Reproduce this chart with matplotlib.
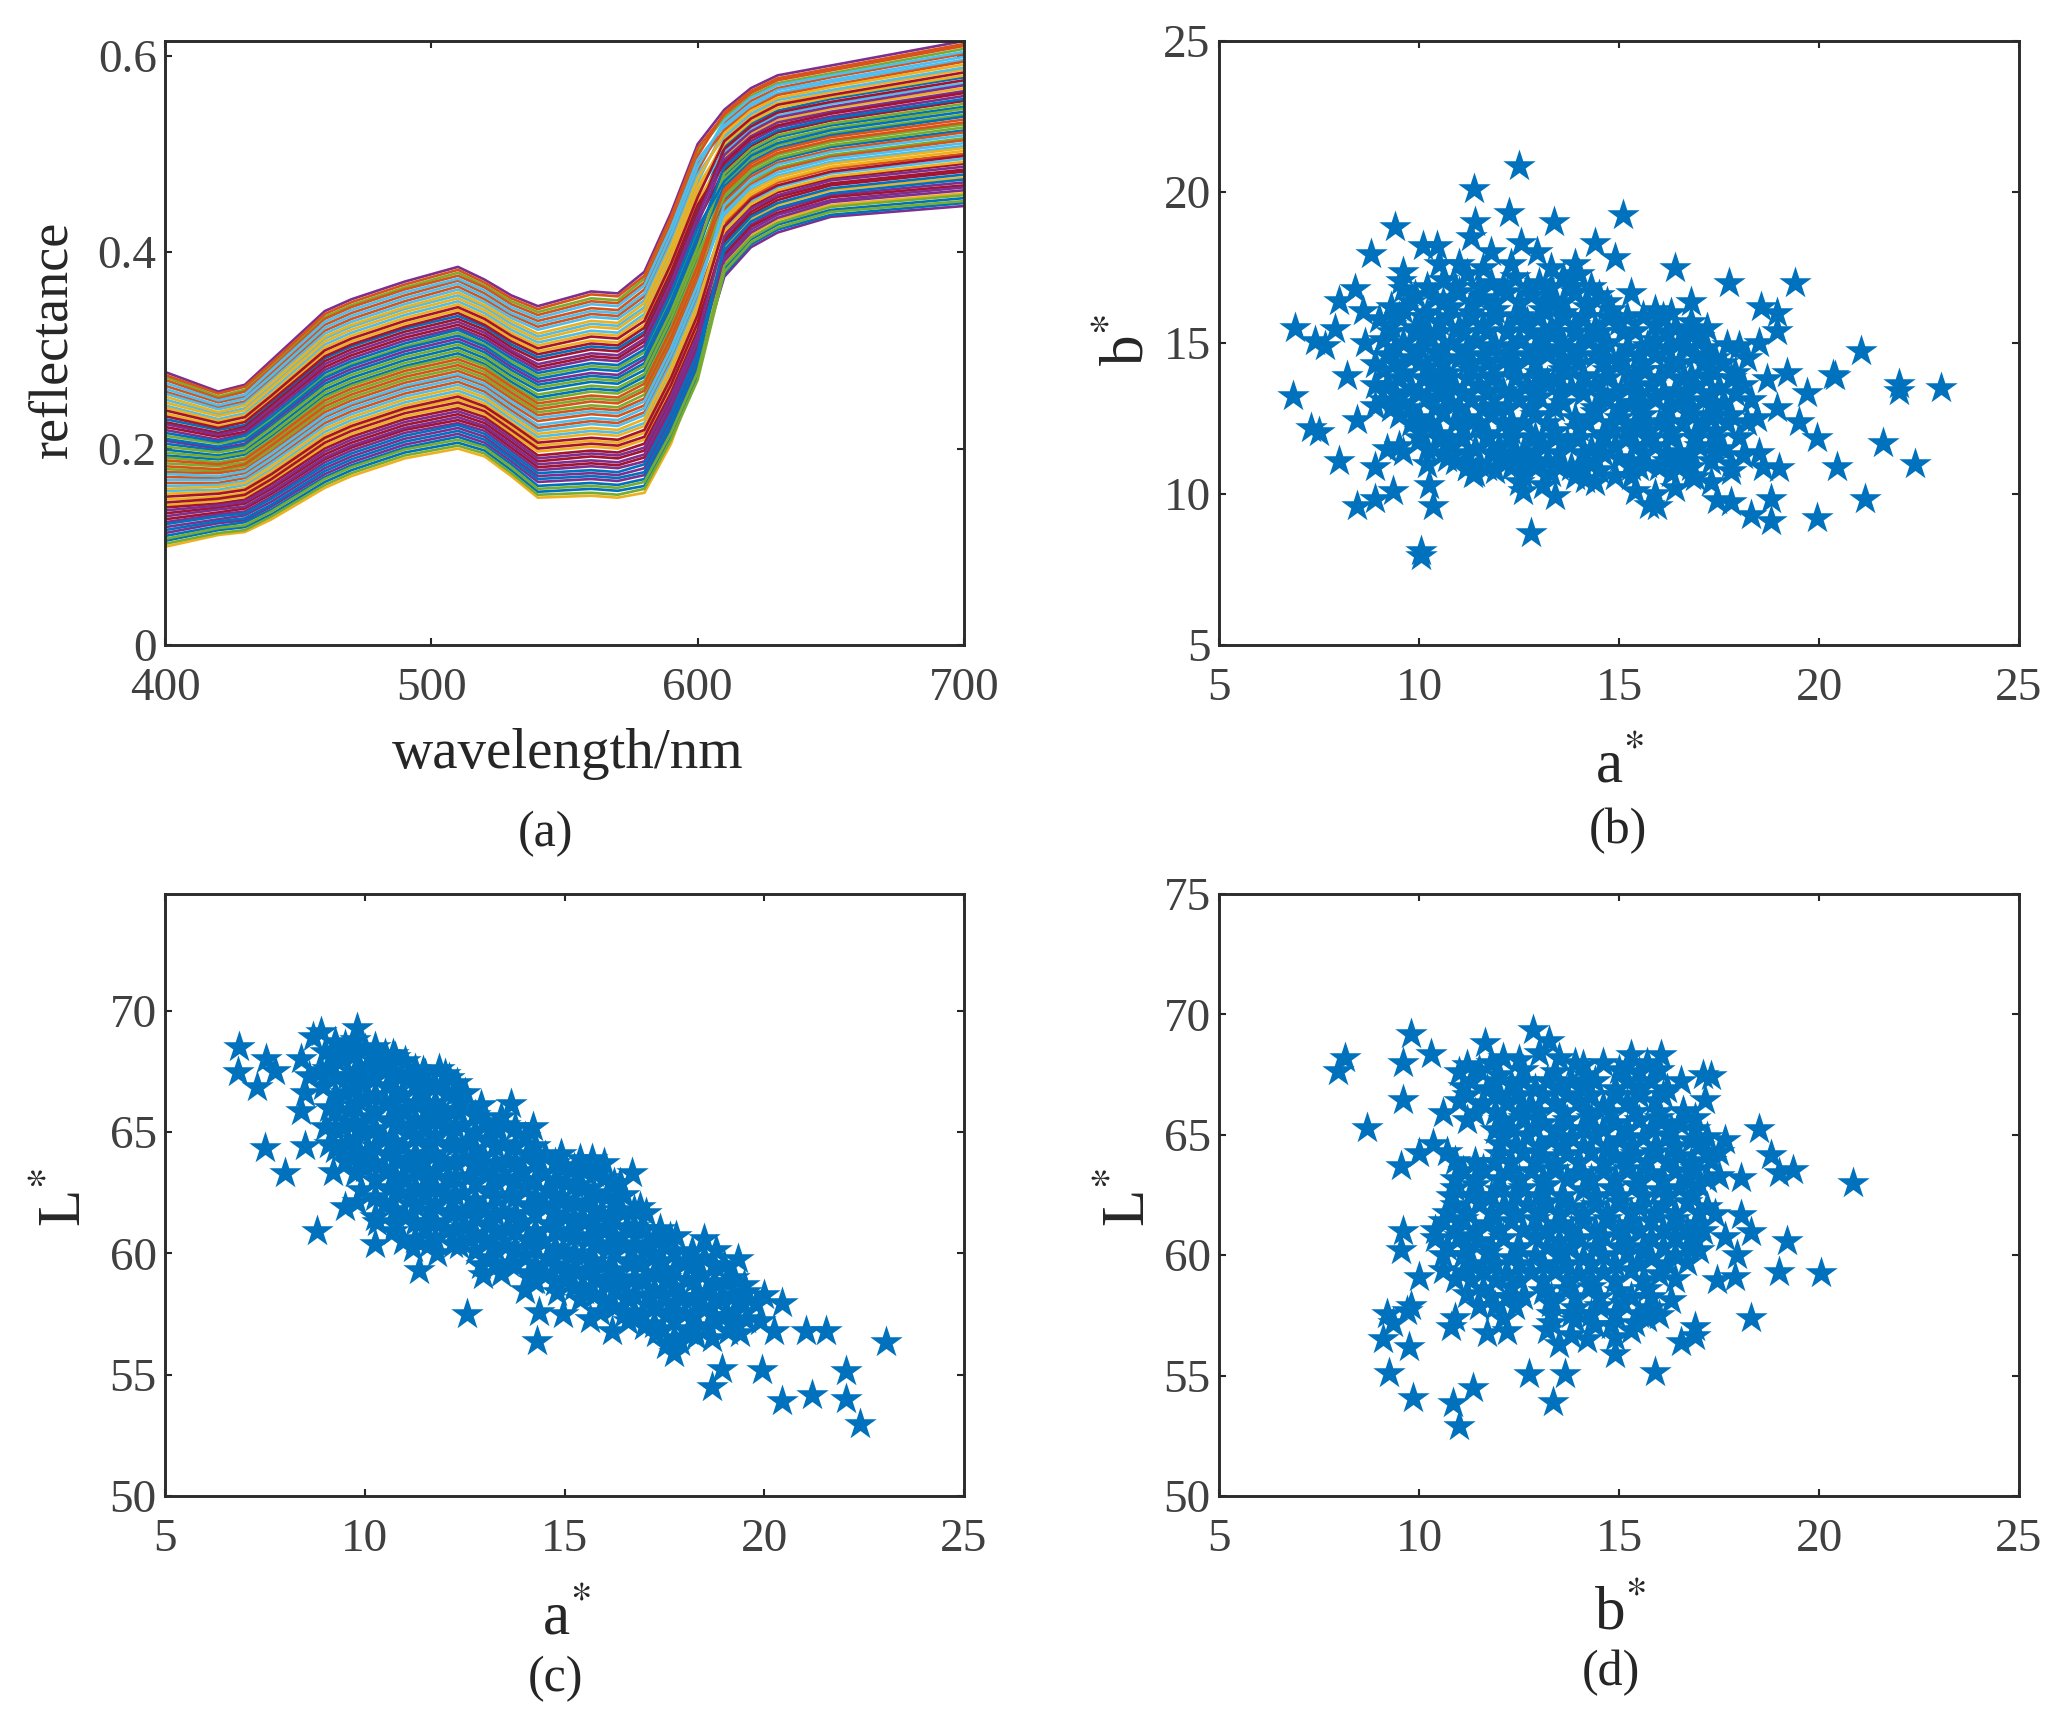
import matplotlib
matplotlib.use("Agg")
import matplotlib.pyplot as plt
import numpy as np

W, H = 2071, 1717

plt.rcParams["font.family"] = ["Liberation Serif", "DejaVu Serif"]
plt.rcParams["mathtext.fontset"] = "stix"

wavelengths = [400, 420, 430, 460, 490, 510, 540, 560, 580, 600, 620, 650, 700]

# reflectance x 1000, one row per sample
spectra = [
    [230, 219, 224, 292, 322, 335, 293, 304, 319, 444, 531, 556, 578],
    [165, 165, 170, 226, 256, 268, 221, 228, 237, 355, 456, 485, 500],
    [100, 112, 115, 160, 190, 200, 150, 152, 155, 280, 418, 448, 460],
    [114, 124, 127, 174, 204, 215, 166, 169, 173, 285, 405, 436, 447],
    [179, 177, 182, 240, 270, 282, 237, 244, 255, 374, 485, 512, 530],
    [244, 230, 236, 306, 336, 350, 308, 320, 337, 463, 526, 551, 572],
    [128, 135, 139, 189, 219, 229, 181, 185, 191, 305, 438, 468, 482],
    [193, 189, 194, 254, 284, 297, 252, 261, 273, 394, 480, 507, 524],
    [258, 242, 248, 320, 350, 365, 324, 337, 355, 483, 554, 578, 602],
    [142, 147, 151, 203, 233, 244, 197, 202, 209, 324, 433, 463, 476],
    [208, 200, 205, 269, 299, 312, 268, 277, 291, 413, 513, 538, 559],
    [273, 253, 260, 334, 364, 379, 339, 353, 373, 502, 559, 582, 607],
    [157, 158, 163, 217, 247, 259, 212, 218, 226, 343, 464, 492, 508],
    [222, 212, 217, 283, 313, 326, 283, 294, 309, 432, 508, 534, 554],
    [106, 117, 120, 166, 196, 206, 156, 159, 162, 274, 413, 443, 455],
    [171, 170, 175, 232, 262, 274, 228, 235, 244, 363, 477, 504, 522],
    [236, 223, 229, 297, 327, 341, 299, 310, 326, 452, 521, 546, 567],
    [120, 128, 132, 180, 210, 221, 172, 175, 180, 293, 428, 458, 471],
    [185, 182, 186, 246, 276, 288, 243, 251, 262, 382, 472, 499, 516],
    [250, 235, 241, 312, 342, 356, 314, 327, 344, 471, 549, 573, 596],
    [134, 140, 144, 194, 224, 235, 187, 192, 198, 312, 426, 456, 468],
    [199, 193, 198, 260, 290, 303, 259, 268, 280, 401, 503, 529, 548],
    [264, 247, 253, 326, 356, 371, 330, 343, 362, 490, 546, 570, 594],
    [148, 151, 155, 209, 239, 250, 203, 208, 216, 332, 459, 487, 503],
    [278, 258, 265, 340, 370, 385, 345, 360, 380, 510, 567, 590, 615],
    [213, 205, 210, 274, 304, 318, 274, 284, 298, 421, 500, 526, 546],
    [162, 163, 167, 223, 253, 265, 218, 225, 234, 351, 451, 480, 495],
    [227, 216, 222, 289, 319, 332, 290, 301, 316, 440, 528, 553, 575],
    [111, 121, 125, 171, 201, 212, 162, 165, 169, 281, 408, 438, 450],
    [176, 175, 179, 237, 267, 279, 234, 241, 251, 370, 469, 497, 514],
    [242, 228, 234, 303, 333, 347, 305, 317, 334, 460, 539, 563, 586],
    [125, 133, 136, 186, 216, 226, 178, 182, 187, 301, 420, 451, 463],
    [191, 186, 191, 252, 282, 294, 249, 258, 269, 390, 495, 521, 540],
    [256, 240, 246, 317, 347, 362, 321, 334, 351, 479, 541, 565, 588],
    [140, 144, 148, 200, 230, 241, 193, 198, 205, 320, 446, 475, 490],
    [205, 198, 203, 266, 296, 309, 265, 274, 287, 409, 492, 519, 538],
    [270, 251, 258, 332, 362, 376, 336, 350, 369, 498, 564, 587, 612],
    [154, 156, 160, 214, 244, 256, 209, 215, 223, 340, 449, 477, 492],
    [219, 209, 215, 280, 310, 323, 280, 291, 305, 429, 518, 543, 564],
    [103, 114, 117, 163, 193, 203, 153, 155, 159, 270, 410, 441, 452],
    [168, 168, 172, 229, 259, 271, 224, 231, 241, 359, 474, 502, 519],
    [233, 221, 227, 294, 324, 338, 296, 307, 323, 448, 516, 541, 562],
    [117, 126, 129, 177, 207, 218, 169, 172, 176, 289, 431, 460, 474],
    [182, 179, 184, 243, 273, 285, 240, 248, 259, 378, 487, 514, 532],
    [247, 233, 239, 309, 339, 353, 311, 324, 341, 467, 533, 558, 580],
    [131, 138, 141, 191, 221, 232, 184, 188, 194, 309, 423, 453, 466],
    [196, 191, 196, 257, 287, 300, 255, 264, 276, 398, 482, 509, 527],
    [261, 244, 251, 323, 353, 368, 327, 340, 358, 487, 557, 580, 604],
    [145, 149, 153, 206, 236, 247, 200, 205, 212, 328, 441, 470, 484],
    [210, 202, 208, 272, 302, 315, 271, 281, 294, 417, 510, 536, 556],
    [275, 256, 263, 337, 367, 382, 342, 357, 376, 506, 562, 585, 610],
    [159, 161, 165, 220, 250, 262, 215, 221, 230, 347, 462, 490, 506],
    [225, 214, 220, 286, 316, 329, 286, 297, 312, 436, 523, 548, 570],
    [108, 119, 122, 169, 199, 209, 159, 162, 166, 278, 415, 446, 458],
    [174, 172, 177, 234, 264, 276, 231, 238, 248, 367, 467, 495, 511],
    [239, 226, 232, 300, 330, 344, 302, 314, 330, 456, 536, 560, 583],
    [123, 131, 134, 183, 213, 224, 175, 178, 184, 297, 436, 465, 479],
    [188, 184, 189, 249, 279, 291, 246, 254, 266, 386, 490, 517, 535],
    [253, 237, 244, 314, 344, 359, 317, 330, 348, 475, 544, 568, 591],
    [137, 142, 146, 197, 227, 238, 190, 195, 201, 316, 444, 473, 487],
    [202, 196, 201, 263, 293, 306, 262, 271, 284, 405, 505, 531, 551],
    [267, 249, 255, 329, 359, 373, 333, 347, 366, 494, 551, 575, 599],
    [151, 154, 158, 211, 241, 253, 206, 211, 219, 336, 454, 482, 498],
    [216, 207, 213, 277, 307, 321, 277, 287, 301, 425, 498, 524, 543],
]

# further wavelengths, same sample order as the rows above
refl_440 = [246, 187, 128, 141, 200, 259, 154, 213, 272, 167, 226, 285, 179, 239, 133, 192,
            251, 146, 205, 264, 159, 218, 277, 172, 290, 231, 185, 244, 138, 197, 256, 151,
            210, 269, 164, 223, 282, 177, 236, 131, 190, 249, 143, 203, 262, 156, 215, 274,
            169, 228, 287, 182, 241, 136, 195, 254, 149, 208, 267, 161, 221, 280, 174, 233]
refl_470 = [304, 238, 172, 186, 252, 318, 201, 266, 332, 215, 281, 346, 229, 295, 178, 244,
            309, 192, 258, 324, 206, 272, 338, 221, 352, 286, 235, 301, 183, 249, 315, 198,
            264, 329, 212, 278, 344, 226, 292, 175, 241, 306, 189, 255, 321, 203, 269, 335,
            218, 284, 349, 232, 298, 181, 246, 312, 195, 261, 326, 209, 275, 341, 223, 289]
refl_520 = [324, 258, 192, 206, 272, 338, 221, 286, 352, 235, 301, 366, 249, 315, 198, 264,
            329, 212, 278, 344, 226, 292, 358, 241, 372, 306, 255, 321, 203, 269, 335, 218,
            284, 349, 232, 298, 364, 246, 312, 195, 261, 326, 209, 275, 341, 223, 289, 355,
            238, 304, 369, 252, 318, 201, 266, 332, 215, 281, 346, 229, 295, 361, 243, 309]
refl_530 = [306, 239, 172, 187, 254, 321, 201, 268, 336, 216, 283, 350, 230, 298, 178, 245,
            312, 192, 260, 327, 207, 274, 341, 222, 356, 289, 236, 303, 184, 251, 318, 198,
            265, 333, 213, 280, 347, 227, 295, 175, 242, 309, 190, 257, 324, 204, 271, 338,
            219, 286, 353, 233, 300, 181, 248, 315, 195, 263, 330, 210, 277, 344, 225, 292]
refl_570 = [302, 226, 150, 167, 242, 318, 183, 259, 335, 200, 275, 351, 216, 292, 157, 233,
            308, 173, 249, 325, 190, 266, 341, 206, 358, 282, 223, 299, 163, 239, 315, 180,
            256, 332, 196, 272, 348, 213, 289, 153, 229, 305, 170, 246, 322, 186, 262, 338,
            203, 279, 355, 219, 295, 160, 236, 312, 176, 252, 328, 193, 269, 345, 209, 285]
refl_590 = [377, 291, 205, 224, 309, 395, 242, 328, 414, 261, 347, 433, 280, 365, 212, 298,
            384, 231, 317, 403, 250, 336, 421, 268, 440, 354, 287, 373, 220, 306, 392, 239,
            324, 410, 257, 343, 429, 276, 362, 209, 295, 380, 227, 313, 399, 246, 332, 418,
            265, 350, 436, 283, 369, 216, 302, 388, 235, 321, 406, 253, 339, 425, 272, 358]
refl_610 = [507, 429, 389, 375, 459, 502, 410, 453, 532, 405, 488, 537, 437, 483, 383, 451,
            497, 399, 445, 526, 397, 478, 524, 432, 545, 475, 424, 505, 378, 443, 515, 391,
            470, 518, 418, 467, 542, 421, 494, 380, 448, 491, 402, 461, 510, 394, 456, 534,
            413, 486, 540, 434, 499, 386, 440, 513, 407, 464, 521, 416, 480, 529, 426, 472]
refl_630 = [544, 471, 433, 420, 499, 539, 453, 494, 567, 448, 527, 572, 478, 522, 428, 491,
            534, 443, 486, 562, 440, 517, 560, 473, 580, 514, 466, 542, 423, 484, 552, 435,
            509, 555, 461, 506, 577, 463, 532, 425, 489, 529, 445, 501, 547, 438, 496, 570,
            456, 524, 575, 476, 537, 430, 481, 550, 450, 504, 557, 458, 519, 565, 468, 511]
extra_wavelengths = [440, 470, 520, 530, 570, 590, 610, 630]

# (a*, b*) pairs
ab_points = [
    (12.5, 20.85), (11.37, 20.1), (12.26, 19.3), (15.1, 19.25), (9.4, 18.85), (13.37, 19.0), (11.4, 19.0),
    (11.3, 18.5), (8.8, 17.95), (10.1, 18.2), (10.45, 18.2), (12.55, 18.3), (12.95, 18.0), (11.8, 18.0),
    (14.4, 18.3), (14.9, 17.8), (16.4, 17.5), (17.75, 17.0), (19.4, 17.0), (15.3, 16.65), (16.8, 16.35),
    (18.55, 16.2), (18.95, 16.0), (18.95, 15.4), (17.7, 14.95), (21.05, 14.75), (18.5, 15.0), (20.35, 13.95),
    (20.4, 13.9), (22.0, 13.65), (22.0, 13.4), (23.05, 13.5), (19.7, 13.35), (19.2, 14.0), (18.7, 13.8),
    (18.95, 12.85), (18.45, 12.5), (19.5, 12.4), (19.95, 11.85), (21.6, 11.7), (22.4, 11.0), (20.45, 10.9),
    (19.0, 10.85), (18.5, 11.35), (17.8, 10.75), (21.15, 9.85), (19.95, 9.2), (18.8, 9.85), (18.8, 9.1),
    (18.3, 9.3), (17.8, 9.75), (17.45, 9.8), (15.95, 9.6), (15.75, 9.65), (13.4, 9.95), (12.8, 8.7),
    (12.6, 10.1), (10.05, 8.1), (10.05, 7.95), (10.35, 9.6), (10.25, 10.3), (9.35, 10.1), (8.9, 9.85),
    (8.45, 9.6), (8.9, 10.9), (8.0, 11.1), (7.5, 12.05), (7.3, 12.2), (8.45, 12.45), (6.85, 13.25),
    (8.2, 13.9), (8.65, 15.0), (6.9, 15.5), (7.4, 15.05), (7.65, 14.9), (7.9, 15.45), (8.6, 16.05),
    (8.4, 16.8), (8.0, 16.4), (9.6, 17.35), (9.55, 17.05), (16.9, 10.55), (14.15, 10.5), (11.35, 10.65),
    (15.5, 14.6), (15.6, 14.1), (15.4, 15.4), (15.5, 13.0), (15.6, 12.3), (15.4, 11.6), (15.3, 11.1),
    (15.5, 10.9), (14.9, 10.6), (15.6, 15.9), (15.7, 14.9), (14.9, 13.3), (14.6, 13.2),
    (18.2, 14.5), (18.0, 14.9), (18.3, 13.1), (18.2, 12.4), (18.0, 11.9), (18.1, 11.3), (17.8, 11.0),
    (17.3, 10.4), (16.4, 10.2), (15.9, 10.0), (15.4, 10.1), (14.4, 10.4), (13.1, 10.3), (12.5, 10.4),
    (11.2, 10.9), (10.7, 11.2), (10.2, 11.0), (9.2, 11.5), (9.6, 11.4), (8.9, 12.9), (8.9, 13.6),
    (8.9, 14.3), (9.0, 15.8), (9.3, 16.2), (9.6, 16.8), (10.5, 17.6), (11.0, 17.6), (11.6, 17.5),
    (12.3, 17.6), (13.9, 17.6), (13.3, 17.5), (15.9, 16.1), (16.3, 16.0), (16.8, 15.7), (17.2, 15.5),
    (17.3, 12.9), (18.6, 10.9),
    (10.6, 17.1), (11.2, 17.3), (11.8, 17.0), (12.4, 17.2), (13.0, 17.0), (13.6, 17.2), (14.0, 17.3),
    (9.9, 16.6), (10.4, 16.5), (11.0, 16.7), (11.6, 16.5), (12.2, 16.7), (12.8, 16.6), (13.3, 16.4), (13.9, 16.7), (14.5, 16.6),
    (9.6, 16.1), (10.2, 16.0), (10.8, 16.2), (11.3, 16.0), (11.9, 16.1), (12.5, 15.9), (13.1, 16.1), (13.6, 16.0), (14.2, 16.2), (14.8, 16.1),
    (9.3, 15.6), (9.9, 15.5), (10.5, 15.7), (11.0, 15.5), (11.6, 15.6), (12.2, 15.4), (12.7, 15.7), (13.3, 15.5), (13.9, 15.6), (14.4, 15.5), (15.0, 15.7), (15.9, 15.6), (16.4, 15.5),
    (9.1, 15.1), (9.6, 15.0), (10.2, 15.2), (10.8, 15.0), (11.4, 15.1), (11.9, 14.9), (12.5, 15.1), (13.1, 15.2), (13.6, 15.0), (14.2, 15.1), (14.7, 15.0), (15.9, 15.1), (16.5, 15.0), (17.0, 15.2),
    (9.2, 14.6), (9.8, 14.5), (10.4, 14.7), (11.0, 14.5), (11.6, 14.6), (12.1, 14.4), (12.7, 14.6), (13.2, 14.7), (13.8, 14.5), (14.4, 14.6), (15.0, 14.5), (15.9, 14.6), (16.3, 14.4), (16.9, 14.6), (17.4, 14.5),
    (9.1, 14.1), (9.6, 14.0), (10.2, 14.2), (10.7, 14.0), (11.3, 14.1), (11.9, 13.9), (12.4, 14.2), (13.0, 14.0), (13.6, 14.1), (14.1, 13.9), (14.7, 14.1), (15.2, 14.0), (16.2, 14.1), (16.8, 13.9), (17.3, 14.1), (17.9, 14.0),
    (9.2, 13.6), (9.8, 13.5), (10.4, 13.7), (10.9, 13.5), (11.5, 13.6), (12.1, 13.4), (12.7, 13.6), (13.2, 13.7), (13.8, 13.5), (14.4, 13.6), (15.2, 13.5), (15.8, 13.6), (16.4, 13.4), (16.9, 13.6), (17.5, 13.5), (18.1, 13.6),
    (9.1, 13.1), (9.6, 13.0), (10.2, 13.2), (10.8, 13.0), (11.3, 13.1), (11.9, 12.9), (12.5, 13.1), (13.0, 13.2), (13.6, 13.0), (14.7, 13.1), (15.3, 13.0), (15.9, 13.2), (16.5, 13.0), (17.1, 13.1), (17.6, 13.0),
    (9.5, 12.6), (10.0, 12.5), (10.6, 12.7), (11.2, 12.5), (11.8, 12.6), (12.3, 12.4), (12.9, 12.6), (13.9, 12.5), (14.4, 12.7), (15.0, 12.5), (15.6, 12.6), (16.2, 12.4), (16.8, 12.6), (17.3, 12.5), (17.8, 12.6),
    (10.0, 12.1), (10.5, 12.0), (11.1, 12.2), (11.7, 12.0), (12.3, 12.1), (12.9, 11.9), (13.4, 12.1), (14.0, 12.2), (14.6, 12.0), (15.2, 12.1), (15.7, 11.9), (16.3, 12.1), (16.9, 12.0), (17.4, 12.1),
    (9.5, 11.6), (10.2, 11.5), (10.8, 11.7), (11.4, 11.5), (12.0, 11.6), (12.6, 11.4), (13.1, 11.6), (13.7, 11.7), (14.3, 11.5), (14.9, 11.6), (15.9, 11.6), (16.5, 11.4), (17.0, 11.6), (17.6, 11.5),
    (10.9, 11.1), (11.5, 11.0), (12.0, 11.2), (12.6, 11.0), (13.2, 11.1), (13.8, 10.9), (14.4, 11.1), (15.0, 11.2), (15.7, 11.0), (16.2, 11.1), (16.8, 10.9), (17.3, 11.1),
    (11.4, 10.7), (11.9, 10.8), (12.6, 10.6), (13.3, 10.7), (13.9, 10.6), (14.5, 10.8), (15.3, 10.6), (16.3, 10.7), (16.8, 10.6),
]
# dense core of panel b: b* level, then the a* values read along it
ab_core = [
    (16.85, [10.2, 10.9, 11.5, 12.1, 12.7, 13.3, 13.8, 14.3]),
    (16.35, [9.8, 10.6, 11.3, 11.9, 12.5, 13.1, 13.6, 14.2, 14.7]),
    (15.85, [9.5, 10.1, 10.7, 11.3, 11.9, 12.4, 13.0, 13.6, 14.1, 14.7, 15.2, 16.1]),
    (15.35, [9.3, 9.9, 10.5, 11.1, 11.7, 12.2, 12.8, 13.4, 13.9, 14.5, 15.1, 16.2, 16.7]),
    (14.85, [9.4, 10.0, 10.6, 11.2, 11.8, 12.3, 12.9, 13.5, 14.0, 14.6, 15.2, 16.2, 16.7, 17.2]),
    (14.35, [9.4, 10.0, 10.6, 11.2, 11.7, 12.3, 12.9, 13.5, 14.0, 14.6, 15.0, 15.6, 16.5, 17.1, 17.6]),
    (13.85, [9.5, 10.1, 10.7, 11.2, 11.8, 12.4, 13.0, 13.5, 14.1, 14.7, 15.4, 16.0, 16.6, 17.2, 17.8]),
    (13.35, [9.4, 10.0, 10.6, 11.1, 11.7, 12.3, 12.9, 13.5, 14.1, 14.9, 15.5, 16.1, 16.7, 17.3, 17.9]),
    (12.85, [9.3, 9.8, 10.4, 11.0, 11.6, 12.2, 12.8, 13.4, 14.4, 15.0, 15.6, 16.2, 16.8, 17.4]),
    (12.35, [9.8, 10.3, 10.9, 11.5, 12.1, 12.6, 13.2, 14.2, 14.8, 15.4, 16.0, 16.6, 17.1, 17.7]),
    (11.85, [10.0, 10.5, 11.1, 11.7, 12.3, 12.8, 13.4, 14.0, 14.6, 15.2, 15.8, 16.3, 16.9, 17.4]),
    (11.35, [10.6, 11.2, 11.8, 12.3, 12.9, 13.5, 14.1, 14.6, 15.6, 16.2, 16.8, 17.4]),
    (10.9, [11.2, 11.7, 12.3, 12.9, 13.5, 14.1, 15.3, 16.0, 16.5]),
]

# (a*, L*) pairs
al_points = [
    (6.86, 68.5), (6.83, 67.45), (7.3, 66.85), (7.54, 68.0), (7.75, 67.5), (8.4, 68.0), (7.5, 64.35),
    (8.0, 63.3), (8.5, 64.4), (8.4, 65.85), (9.1, 66.0), (8.8, 60.9), (9.5, 61.9), (9.8, 62.1),
    (9.2, 63.35), (10.25, 60.4), (10.95, 60.5), (11.35, 59.3), (12.35, 60.35), (12.55, 57.5), (12.95, 59.1),
    (14.3, 56.4), (14.35, 57.6), (14.95, 57.5), (14.0, 58.5), (15.65, 57.3), (16.2, 56.8), (17.0, 57.0),
    (13.65, 66.15), (9.8, 69.3), (8.9, 69.1), (8.7, 68.9), (16.7, 63.3), (16.0, 63.7), (15.4, 63.9),
    (17.05, 61.65), (17.65, 60.65), (18.5, 60.6), (18.8, 60.15), (19.35, 59.75), (19.55, 58.4), (20.45, 57.95),
    (20.25, 56.8), (21.05, 56.8), (21.55, 56.8), (23.05, 56.35), (22.05, 55.15), (19.95, 55.2), (18.95, 55.25),
    (18.7, 54.5), (20.45, 53.9), (21.2, 54.15), (22.05, 54.0), (22.4, 52.95), (17.75, 55.9), (17.9, 56.35),
    (18.7, 56.5), (19.4, 56.7), (11.85, 67.6), (10.7, 68.2), (11.45, 67.5), (12.1, 67.2),
    (9.9, 62.6), (10.3, 61.3), (10.7, 60.9), (11.2, 60.2), (11.8, 60.0), (12.2, 60.4), (12.9, 59.5),
    (13.4, 59.2), (14.2, 58.9), (14.8, 58.4), (15.4, 58.1), (15.9, 57.6), (16.6, 57.2), (17.3, 56.7),
    (18.3, 56.6), (19.2, 57.1), (19.8, 57.9), (20.0, 58.3), (19.9, 57.2), (18.2, 60.1), (17.8, 60.7),
    (17.4, 61.0), (16.9, 61.9), (16.4, 62.9), (15.7, 63.9), (14.9, 64.1), (14.2, 65.2), (13.4, 65.6),
    (12.9, 66.1), (12.5, 66.6), (12.3, 67.0), (8.6, 67.3), (8.5, 66.6), (8.9, 67.5),
    (9.0, 68.3), (9.05, 67.6), (8.95, 66.9), (9.0, 65.2), (9.1, 64.5),
    (9.5, 68.6), (9.45, 68.0), (9.55, 67.3), (9.5, 66.6), (9.6, 65.9), (9.45, 65.2), (9.55, 64.5), (9.5, 63.8),
    (10.0, 68.4), (10.05, 67.7), (9.95, 67.0), (10.0, 66.3), (10.1, 65.6), (9.95, 64.9), (10.05, 64.2), (10.0, 63.5),
    (10.5, 68.2), (10.45, 67.6), (10.55, 66.9), (10.5, 66.2), (10.6, 65.5), (10.45, 64.8), (10.55, 64.1), (10.5, 63.4), (10.6, 62.7), (10.5, 62.0),
    (11.0, 67.9), (11.05, 67.2), (10.95, 66.5), (11.0, 65.8), (11.1, 65.1), (10.95, 64.4), (11.05, 63.7), (11.0, 63.0), (11.1, 62.3), (11.0, 61.5),
    (11.5, 67.4), (11.45, 66.7), (11.55, 66.0), (11.5, 65.3), (11.6, 64.6), (11.45, 63.9), (11.55, 63.2), (11.5, 62.5), (11.6, 61.8), (11.5, 61.0), (11.6, 60.4),
    (12.0, 67.4), (12.05, 66.6), (11.95, 65.9), (12.0, 65.2), (12.1, 64.5), (11.95, 63.8), (12.05, 63.1), (12.0, 62.4), (12.1, 61.7), (12.0, 61.0),
    (12.5, 66.0), (12.45, 65.3), (12.55, 64.6), (12.5, 63.9), (12.6, 63.2), (12.45, 62.5), (12.55, 61.8), (12.5, 61.1), (12.6, 60.6),
    (13.0, 65.4), (13.05, 64.7), (12.95, 64.0), (13.0, 63.3), (13.1, 62.6), (12.95, 61.9), (13.05, 61.2), (13.0, 60.5), (13.1, 59.8),
    (13.5, 65.3), (13.45, 64.5), (13.55, 63.8), (13.5, 63.1), (13.6, 62.4), (13.45, 61.7), (13.55, 61.0), (13.5, 60.3), (13.6, 59.6),
    (14.0, 64.8), (14.05, 64.1), (13.95, 63.4), (14.0, 62.7), (14.1, 62.0), (13.95, 61.3), (14.05, 60.6), (14.0, 59.9), (14.1, 59.2),
    (14.5, 64.0), (14.45, 63.3), (14.55, 62.6), (14.5, 61.9), (14.6, 61.2), (14.45, 60.5), (14.55, 59.8), (14.5, 59.1),
    (15.0, 63.6), (15.05, 62.9), (14.95, 62.2), (15.0, 61.5), (15.1, 60.8), (14.95, 60.1), (15.05, 59.4), (15.0, 58.9),
    (15.5, 63.4), (15.45, 62.7), (15.55, 62.0), (15.5, 61.3), (15.6, 60.6), (15.45, 59.9), (15.55, 59.2), (15.5, 58.5),
    (16.0, 63.1), (16.05, 62.3), (15.95, 61.6), (16.0, 60.9), (16.1, 60.2), (15.95, 59.5), (16.05, 58.8), (16.0, 58.0),
    (16.5, 62.4), (16.45, 61.7), (16.55, 61.0), (16.5, 60.3), (16.6, 59.6), (16.45, 58.9), (16.55, 58.2), (16.5, 57.5),
    (17.0, 61.0), (17.05, 60.3), (16.95, 59.6), (17.0, 58.9), (17.1, 58.2), (16.95, 57.5),
    (17.5, 60.4), (17.45, 59.7), (17.55, 59.0), (17.5, 58.3), (17.6, 57.6), (17.45, 56.9), (17.55, 56.2),
    (18.0, 59.6), (18.05, 58.9), (17.95, 58.2), (18.0, 57.5), (18.1, 56.8),
    (18.5, 59.8), (18.45, 59.1), (18.55, 58.4), (18.5, 57.7), (18.6, 57.0),
    (19.0, 59.5), (19.05, 58.8), (18.95, 58.1), (19.0, 57.4), (19.1, 56.8),
    (19.5, 58.7), (19.45, 58.0), (19.55, 57.3),
]
# dense core of panel c: a* value, then the L* values read along it
al_core = [
    (9.25, [68.7, 68.0, 67.3, 66.5, 65.8, 65.1, 64.3]),
    (9.75, [68.8, 68.2, 67.5, 66.8, 66.1, 65.4, 64.7, 64.0, 63.3]),
    (10.25, [68.5, 67.9, 67.2, 66.5, 65.8, 65.1, 64.4, 63.7, 63.0, 62.3, 61.5]),
    (10.75, [68.1, 67.4, 66.7, 66.0, 65.3, 64.6, 63.9, 63.2, 62.5, 61.8, 61.2]),
    (11.25, [67.6, 66.9, 66.2, 65.5, 64.8, 64.1, 63.4, 62.7, 62.0, 61.3, 60.6]),
    (11.75, [66.9, 66.2, 65.5, 64.8, 64.1, 63.4, 62.7, 62.0, 61.3, 60.6]),
    (12.25, [66.6, 65.9, 65.2, 64.5, 63.8, 63.1, 62.4, 61.7, 61.0]),
    (12.75, [65.7, 65.0, 64.3, 63.6, 62.9, 62.2, 61.5, 60.8, 60.1]),
    (13.25, [65.1, 64.4, 63.7, 63.0, 62.3, 61.6, 60.9, 60.2, 59.5]),
    (13.75, [65.2, 64.4, 63.7, 63.0, 62.3, 61.6, 60.9, 60.2, 59.5]),
    (14.25, [64.4, 63.7, 63.0, 62.3, 61.6, 60.9, 60.2, 59.5, 58.9]),
    (14.75, [63.7, 63.0, 62.3, 61.6, 60.9, 60.2, 59.5, 58.8]),
    (15.25, [63.5, 62.8, 62.1, 61.4, 60.7, 60.0, 59.3, 58.6]),
    (15.75, [63.3, 62.5, 61.8, 61.1, 60.4, 59.7, 59.0, 58.3]),
    (16.25, [62.9, 62.1, 61.4, 60.7, 60.0, 59.3, 58.5, 57.8]),
    (16.75, [61.8, 61.1, 60.4, 59.7, 59.0, 58.3, 57.6]),
    (17.25, [60.6, 59.9, 59.2, 58.5, 57.8, 57.1]),
    (17.75, [60.0, 59.3, 58.6, 57.9, 57.2, 56.5]),
    (18.25, [59.6, 58.9, 58.2, 57.5, 56.9]),
    (18.75, [59.5, 58.8, 58.1, 57.4]),
    (19.25, [59.0, 58.3, 57.6]),
]

# (b*, L*) pairs
bl_points = [
    (8.15, 68.2), (7.97, 67.65), (8.7, 65.3), (9.8, 69.2), (9.6, 68.0), (10.3, 68.35), (9.6, 66.45),
    (10.6, 65.9), (11.2, 65.6), (9.55, 63.7), (10.0, 64.25), (10.35, 64.6), (9.6, 61.0), (9.55, 60.2),
    (10.0, 59.1), (9.8, 57.9), (9.2, 57.55), (9.1, 56.5), (9.75, 56.2), (9.25, 55.1), (9.85, 54.05),
    (10.85, 53.85), (11.35, 54.5), (11.0, 52.9), (12.75, 55.05), (13.65, 55.05), (13.35, 53.9), (15.9, 55.15),
    (14.9, 55.9), (10.8, 57.0), (11.7, 56.75), (12.2, 56.85), (13.5, 56.3), (16.55, 56.4), (16.9, 57.0),
    (16.9, 56.65), (18.3, 57.4), (16.3, 58.15), (17.45, 58.95), (17.9, 59.1), (19.0, 59.3), (20.05, 59.25),
    (19.2, 60.6), (20.85, 63.0), (19.35, 63.55), (19.0, 63.4), (18.8, 64.15), (18.5, 65.25), (18.05, 63.2),
    (17.65, 64.8), (17.3, 67.45), (17.1, 67.5), (17.15, 66.45), (16.55, 67.25), (16.05, 68.3), (15.3, 68.3),
    (13.9, 68.0), (13.25, 68.9), (12.85, 69.35), (11.65, 68.8), (18.05, 61.65), (18.3, 60.95), (17.65, 60.75),
    (17.95, 60.0), (9.7, 57.7), (9.35, 57.2),
    (11.2, 67.9), (11.8, 68.0), (12.1, 68.2), (12.5, 68.1), (13.0, 68.4), (13.5, 68.2), (14.1, 67.9),
    (14.6, 68.0), (15.2, 67.9), (15.7, 68.0), (11.0, 66.4), (11.4, 65.9), (11.9, 65.2), (12.0, 64.6),
    (10.7, 64.3), (10.9, 63.9), (10.6, 60.0), (10.6, 59.4), (10.9, 59.0), (11.2, 58.4), (11.5, 57.9),
    (10.9, 57.4), (12.4, 57.9), (12.6, 58.3), (12.1, 57.4), (13.2, 56.9), (13.8, 56.7), (14.2, 56.5),
    (14.9, 56.6), (15.3, 56.9), (15.7, 57.4), (16.0, 57.5), (16.4, 59.0), (16.7, 59.7), (17.0, 60.2),
    (17.1, 61.0), (17.4, 61.7), (17.5, 63.3), (17.3, 63.9), (17.5, 64.3), (16.6, 66.0), (16.9, 65.7),
    (14.9, 57.6), (14.4, 57.1),
    (11.0, 67.6), (11.5, 67.7), (12.0, 67.5), (12.6, 67.7), (13.4, 67.6), (14.2, 67.5), (15.0, 67.7), (15.5, 67.6), (16.0, 67.7),
    (11.1, 67.0), (11.7, 66.9), (12.3, 67.1), (12.9, 66.9), (13.5, 67.0), (14.1, 67.1), (14.9, 66.9), (15.5, 67.0), (16.2, 66.9),
    (11.6, 66.3), (12.2, 66.4), (12.8, 66.2), (13.4, 66.3), (14.0, 66.4), (14.6, 66.2), (15.2, 66.3), (15.9, 66.4),
    (12.1, 65.6), (12.6, 65.7), (13.1, 65.5), (13.7, 65.6), (14.3, 65.7), (14.9, 65.5), (15.5, 65.6), (16.0, 65.7), (16.5, 65.5),
    (12.1, 64.9), (12.7, 65.0), (13.3, 64.8), (13.8, 64.9), (14.4, 65.0), (15.0, 64.8), (15.6, 64.9), (16.2, 65.0), (16.8, 64.8), (17.2, 64.9),
    (12.0, 64.2), (12.6, 64.3), (13.1, 64.1), (13.7, 64.2), (14.3, 64.3), (14.9, 64.1), (15.4, 64.2), (15.9, 64.3), (16.5, 64.1), (17.2, 64.2),
    (11.1, 63.5), (11.6, 63.6), (12.2, 63.4), (12.8, 63.5), (13.4, 63.6), (14.0, 63.4), (14.6, 63.5), (15.2, 63.6), (15.8, 63.4), (16.4, 63.5), (16.9, 63.6),
    (10.9, 62.8), (11.4, 62.9), (12.0, 62.7), (12.6, 62.8), (13.2, 62.9), (14.1, 62.7), (14.8, 62.8), (15.4, 62.9), (16.0, 62.7), (16.5, 62.8), (17.0, 62.9),
    (10.9, 62.1), (11.5, 62.2), (12.1, 62.0), (12.7, 62.1), (13.2, 62.2), (13.8, 62.0), (14.4, 62.1), (15.0, 62.2), (15.5, 62.0), (16.1, 62.1), (16.7, 62.2), (17.2, 62.0),
    (10.6, 61.4), (11.1, 61.5), (11.7, 61.3), (12.3, 61.4), (12.9, 61.5), (13.5, 61.3), (14.1, 61.4), (14.7, 61.5), (15.2, 61.3), (15.8, 61.4), (16.4, 61.5), (16.9, 61.3),
    (10.4, 60.7), (11.0, 60.8), (11.5, 60.6), (12.1, 60.7), (12.9, 60.8), (13.5, 60.6), (14.0, 60.7), (14.6, 60.8), (15.2, 60.6), (15.8, 60.7), (16.4, 60.8), (16.9, 60.6),
    (11.1, 60.0), (11.7, 60.1), (12.3, 59.9), (12.9, 60.0), (13.5, 60.1), (14.1, 59.9), (14.6, 60.0), (15.2, 60.1), (15.8, 59.9), (16.4, 60.0),
    (11.1, 59.3), (11.6, 59.4), (12.2, 59.2), (12.8, 59.3), (13.4, 59.4), (14.0, 59.2), (14.6, 59.3), (15.3, 59.4), (16.0, 59.2),
    (11.6, 58.6), (12.3, 58.7), (13.1, 58.5), (13.7, 58.6), (14.3, 58.7), (15.0, 58.5), (15.7, 58.6),
    (11.9, 57.9), (13.3, 58.0), (13.9, 57.8), (14.5, 57.9), (15.1, 58.0), (15.8, 57.8),
    (13.3, 57.2), (13.9, 57.3), (14.8, 57.1), (15.4, 57.2),
]
# dense core of panel d: L* level, then the b* values read along it
bl_core = [
    (67.25, [11.3, 11.9, 12.6, 13.2, 13.8, 14.4, 15.2, 15.8]),
    (66.65, [11.2, 11.9, 12.5, 13.1, 13.7, 14.3, 14.9, 15.5, 16.1]),
    (65.95, [11.9, 12.5, 13.0, 13.6, 14.2, 14.8, 15.4, 16.0, 16.6]),
    (65.25, [12.3, 12.9, 13.5, 14.1, 14.6, 15.2, 15.8, 16.3, 16.9]),
    (64.55, [12.4, 13.0, 13.6, 14.1, 14.7, 15.3, 15.9, 16.4, 17.0]),
    (63.85, [11.4, 11.9, 12.3, 12.9, 13.4, 14.0, 14.6, 15.2, 15.7, 16.2, 16.8]),
    (63.15, [10.9, 11.4, 12.0, 12.5, 13.1, 13.7, 14.3, 14.9, 15.5, 16.1, 16.7, 17.2]),
    (62.45, [10.8, 11.3, 11.8, 12.4, 13.0, 13.6, 14.4, 15.0, 15.6, 16.2, 16.8]),
    (61.75, [10.7, 11.2, 11.8, 12.4, 13.0, 13.5, 14.1, 14.7, 15.3, 15.9, 16.4, 17.0]),
    (61.05, [10.4, 10.9, 11.4, 12.0, 12.6, 13.2, 13.8, 14.4, 15.0, 15.5, 16.1, 16.7]),
    (60.35, [10.7, 11.2, 11.8, 12.5, 13.2, 13.8, 14.4, 15.0, 15.6, 16.1, 16.7]),
    (59.65, [11.3, 11.9, 12.5, 13.1, 13.7, 14.3, 14.9, 15.5, 16.2]),
    (58.95, [11.3, 11.9, 12.5, 13.1, 13.7, 14.3, 14.9, 15.6]),
    (58.25, [11.8, 12.2, 13.3, 13.9, 14.5, 15.3, 15.8]),
    (57.55, [13.3, 13.8, 14.3, 14.9, 15.5]),
]

ticks_25 = [5, 10, 15, 20, 25]
refl_ticks = [0, 0.2, 0.4, 0.6]
refl_labels = ["0", "0.2", "0.4", "0.6"]
wl_ticks = [400, 500, 600, 700]
matlab_colors = ["#0072BD", "#D95319", "#EDB120", "#7E2F8E", "#77AC30", "#4DBEEE", "#A2142F"]
star_color = "#0072BD"
text_color = "#404040"


def make_axes(fig, left, right, top, bottom):
    ax = fig.add_axes([left / W, 1 - bottom / H, (right - left) / W, (bottom - top) / H])
    ax.tick_params(direction="in", length=5, width=1.5, top=True, right=True,
                   labelsize=34, labelcolor=text_color, color="#262626")
    ax.tick_params(axis="x", pad=16.5)
    ax.tick_params(axis="y", pad=6)
    for s in ax.spines.values():
        s.set_linewidth(2.1)
        s.set_color("#2b2b2b")
    return ax


def put_text(fig, x, y, s, size, rotation=0, color="#262626"):
    fig.text(x / W, 1 - y / H, s, fontsize=size, rotation=rotation, color=color,
             ha="center", va="center")


def scatter_panel(ax, points, xlim, ylim, xticks, yticks):
    x, y = np.array(points).T
    ax.scatter(x, y, marker="*", s=600, color=star_color, linewidths=0, clip_on=False)
    ax.set_xlim(*xlim)
    ax.set_ylim(*ylim)
    ax.set_xticks(xticks)
    ax.set_yticks(yticks)


fig = plt.figure(figsize=(W / 100, H / 100), dpi=100, facecolor="white")

ax_a = make_axes(fig, 165, 964, 41, 645)
ax_b = make_axes(fig, 1219, 2019, 41, 645)
ax_c = make_axes(fig, 165, 964, 894, 1496)
ax_d = make_axes(fig, 1219, 2019, 894, 1496)

# put all wavelengths in order before drawing
all_wl = np.array(wavelengths + extra_wavelengths)
all_refl = np.column_stack([np.array(spectra), refl_440, refl_470, refl_520, refl_530,
                            refl_570, refl_590, refl_610, refl_630])
order = np.argsort(all_wl)
all_wl = all_wl[order]
all_refl = all_refl[:, order] / 1000
for i, row in enumerate(all_refl):
    ax_a.plot(all_wl, row, color=matlab_colors[i % 7], lw=1.9)
ax_a.set_xlim(400, 700)
ax_a.set_ylim(0, 0.615)
ax_a.set_xticks(wl_ticks)
ax_a.set_yticks(refl_ticks)
ax_a.set_yticklabels(refl_labels)

ab_all = ab_points + [(a, b) for b, vals in ab_core for a in vals]
al_all = al_points + [(a, l) for a, vals in al_core for l in vals]
bl_all = bl_points + [(b, l) for l, vals in bl_core for b in vals]

scatter_panel(ax_b, ab_all, (5, 25), (5, 25), ticks_25, ticks_25)
scatter_panel(ax_c, al_all, (5, 25), (50, 74.8), ticks_25, [50, 55, 60, 65, 70])
scatter_panel(ax_d, bl_all, (5, 25), (50, 75), ticks_25, [50, 55, 60, 65, 70, 75])

put_text(fig, 568, 754, "wavelength/nm", 41)
put_text(fig, 53, 339, "reflectance", 39, rotation=90)
put_text(fig, 546, 834, "(a)", 36)

put_text(fig, 1619, 768, "a$^{*}$", 44)
put_text(fig, 1129, 340, "b$^{*}$", 44, rotation=90)
put_text(fig, 1618, 831, "(b)", 36)

put_text(fig, 566, 1620, "a$^{*}$", 44)
put_text(fig, 66, 1198, "L$^{*}$", 44, rotation=90)
put_text(fig, 556, 1679, "(c)", 36)

put_text(fig, 1620, 1615, "b$^{*}$", 44)
put_text(fig, 1130, 1198, "L$^{*}$", 44, rotation=90)
put_text(fig, 1611, 1673, "(d)", 36)

fig.savefig("out.png", dpi=100, facecolor="white")
